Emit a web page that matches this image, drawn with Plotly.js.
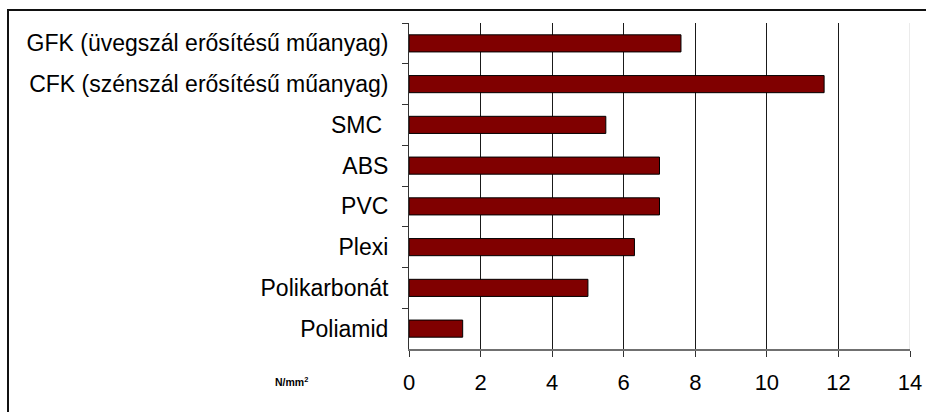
<!DOCTYPE html>
<html>
<head>
<meta charset="utf-8">
<script src="https://cdn.plot.ly/plotly-3.0.1.min.js"></script>
<style>
  html, body { margin: 0; padding: 0; background: #fff; }
  #wrap { position: relative; width: 926px; height: 412px; overflow: hidden; }
  #chart { position: absolute; left: 0; top: 0; width: 926px; height: 412px; }
  #frame { position: absolute; left: 7px; top: 9px; width: 1000px; height: 500px;
           border-left: 2px solid #111; border-top: 2px solid #111; pointer-events: none; }
</style>
</head>
<body>
<div id="wrap">
  <div id="chart"></div>
  <div id="frame"></div>
</div>
<script>
const categories = [
  "GFK (üvegszál erősítésű műanyag)",
  "CFK (szénszál erősítésű műanyag)",
  "SMC ",
  "ABS",
  "PVC",
  "Plexi",
  "Polikarbonát",
  "Poliamid"
];
const values = [7.6, 11.6, 5.5, 7.0, 7.0, 6.3, 5.0, 1.5];
const xTicks = [0, 2, 4, 6, 8, 10, 12, 14];
const unitLabel = "N/mm<sup>2</sup>";

const trace = {
  type: "bar",
  orientation: "h",
  y: categories,
  x: values,
  width: 0.42,
  marker: { color: "#800000", line: { color: "#000", width: 1 } },
  hoverinfo: "none"
};

const layout = {
  width: 926,
  height: 412,
  margin: { l: 409, r: 16, t: 23, b: 63, pad: 0 },
  paper_bgcolor: "#fff",
  plot_bgcolor: "#fff",
  font: { family: "Liberation Sans, Arial, sans-serif", color: "#000", size: 22 },
  showlegend: false,
  bargap: 0.58,
  xaxis: {
    range: [0, 14],
    tickvals: xTicks,
    ticktext: xTicks.map(String),
    showgrid: true,
    gridcolor: "#1a1a1a",
    gridwidth: 1,
    zeroline: false,
    showline: true,
    linecolor: "#707070",
    linewidth: 1.5,
    ticks: "outside",
    ticklen: 6,
    tickcolor: "#333",
    tickwidth: 1,
    ticklabelstandoff: 7,
    tickfont: { size: 22, family: "Liberation Sans, Arial, sans-serif" },
    fixedrange: true
  },
  yaxis: {
    type: "category",
    autorange: "reversed",
    showgrid: false,
    zeroline: false,
    showline: true,
    linecolor: "#333",
    linewidth: 1,
    ticks: "outside",
    tickson: "boundaries",
    ticklen: 6,
    tickcolor: "#333",
    ticklabelstandoff: 15,
    tickfont: { size: 23, family: "Liberation Sans, Arial, sans-serif" },
    fixedrange: true
  },
  shapes: [
    { type: "line", xref: "x", yref: "paper", x0: 14, x1: 14, y0: 0, y1: 1,
      line: { color: "#e4e4e4", width: 1.5 }, layer: "below" }
  ],
  annotations: [
    { text: "<b>" + unitLabel + "</b>", xref: "paper", yref: "paper",
      x: -0.272, y: -0.1, xanchor: "left", yanchor: "middle", showarrow: false,
      font: { size: 10.5, family: "Liberation Sans, Arial, sans-serif", color: "#000" } }
  ]
};

Plotly.newPlot("chart", [trace], layout, { displayModeBar: false, staticPlot: true });
</script>
</body>
</html>
